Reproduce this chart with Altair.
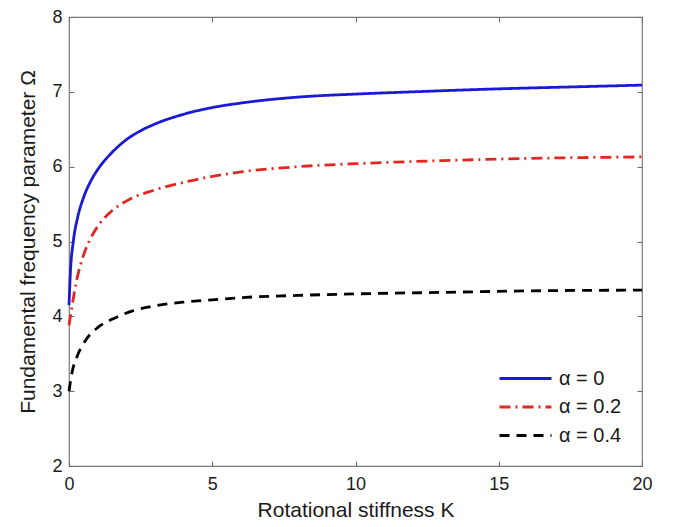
import altair as alt
import pandas as pd

series_names = ["α = 0", "α = 0.2", "α = 0.4"]

k_a0 = [0, 0.05, 0.15, 0.3, 0.5, 0.75, 1, 1.5, 2, 2.5, 3, 4, 5, 6, 8, 10, 12, 15, 18, 20]
om_a0 = [4.15, 4.6, 5.0, 5.32, 5.58, 5.8, 5.96, 6.19, 6.36, 6.48, 6.57, 6.70, 6.79, 6.85, 6.93, 6.97, 7.0, 7.04, 7.07, 7.09]

k_a2 = [0, 0.1, 0.25, 0.45, 0.7, 1, 1.5, 2, 3, 4, 5, 6, 8, 10, 13, 16, 20]
om_a2 = [3.88, 4.12, 4.45, 4.75, 5.0, 5.2, 5.41, 5.54, 5.69, 5.79, 5.87, 5.93, 6.0, 6.04, 6.08, 6.11, 6.13]

k_a4 = [0, 0.1, 0.3, 0.6, 1, 1.5, 2.2, 3, 4, 5, 6, 8, 10, 13, 16, 20]
om_a4 = [3.0, 3.24, 3.48, 3.69, 3.85, 3.96, 4.07, 4.14, 4.19, 4.22, 4.25, 4.28, 4.30, 4.32, 4.34, 4.35]

x_ticks = [0, 5, 10, 15, 20]
y_ticks = [2, 3, 4, 5, 6, 7, 8]

colors = ["#1a1ad6", "#e3261f", "#000000"]
dashes = [[1, 0], [11, 5, 2, 5], [10, 7]]

rows = []
for name, ks, oms in zip(series_names, [k_a0, k_a2, k_a4], [om_a0, om_a2, om_a4]):
    for k, o in zip(ks, oms):
        rows.append({"K": k, "Omega": o, "series": name})
df = pd.DataFrame(rows)

FONT = "Liberation Sans"
x_scale = alt.Scale(domain=[0, 20], nice=False, zero=False)
y_scale = alt.Scale(domain=[2, 8], nice=False, zero=False)

legend_kw = dict(title=None, orient="none", legendX=455, legendY=347,
                 symbolType="M-3,0L1,0", symbolSize=676, symbolStrokeWidth=3,
                 symbolFillColor="transparent",
                 labelFontSize=20, labelFont=FONT, labelOffset=6,
                 rowPadding=3.5, labelColor="#1a1a1a")

lines = alt.Chart(df).mark_line(strokeWidth=2.8, interpolate="monotone").encode(
    x=alt.X("K:Q", scale=x_scale,
            axis=alt.Axis(orient="bottom", values=x_ticks, title="Rotational stiffness  K",
                          offset=-5, tickSize=5, domain=False, grid=False,
                          labelPadding=9, titlePadding=6, labelFlush=False, labelOverlap=False)),
    y=alt.Y("Omega:Q", scale=y_scale,
            axis=alt.Axis(orient="left", values=y_ticks, title="Fundamental frequency parameter  Ω",
                          offset=-5, tickSize=5, domain=False, grid=False,
                          labelPadding=7, titlePadding=13, labelFlush=False, labelOverlap=False)),
    color=alt.Color("series:N", sort=series_names,
                    scale=alt.Scale(domain=series_names, range=colors),
                    legend=alt.Legend(**legend_kw)),
    strokeDash=alt.StrokeDash("series:N", sort=series_names,
                              scale=alt.Scale(domain=series_names, range=dashes),
                              legend=alt.Legend(**legend_kw)),
    detail="series:N",
)

ghost = alt.Chart(df).mark_point(opacity=0).encode(
    x=alt.X("K:Q", scale=x_scale,
            axis=alt.Axis(orient="top", values=x_ticks, title=None, labels=False,
                          offset=-5, tickSize=5, domain=False, grid=False)),
    y=alt.Y("Omega:Q", scale=y_scale,
            axis=alt.Axis(orient="right", values=y_ticks, title=None, labels=False,
                          offset=-5, tickSize=5, domain=False, grid=False)),
)

chart = alt.layer(lines, ghost).resolve_axis(x="independent", y="independent").properties(
    width=573, height=449,
    autosize=alt.AutoSizeParams(type="none"),
    padding={"left": 61, "top": 9, "right": 20, "bottom": 53},
    background="white",
).configure_view(
    stroke="#7a7a7a", strokeWidth=1.2
).configure_axis(
    labelFont=FONT, labelFontSize=18, labelColor="#1a1a1a",
    titleFont=FONT, titleFontSize=21, titleFontWeight="normal", titleColor="#1a1a1a",
    tickColor="#6a6a6a", tickWidth=1,
)

chart.save("out.html", embed_options={"renderer": "svg", "actions": False})
